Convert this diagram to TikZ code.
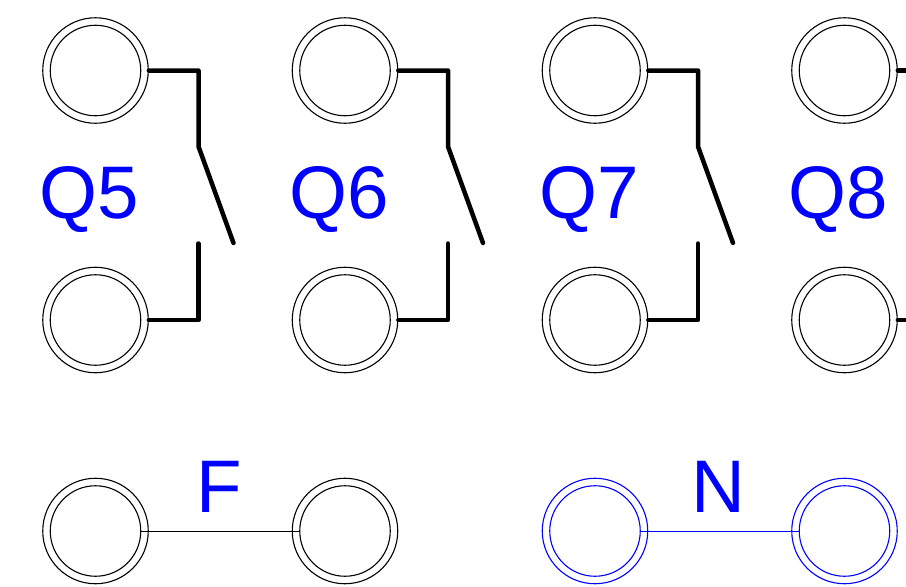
\documentclass[tikz,border=0pt]{standalone}
\usepackage{fontspec}
\setmainfont{Liberation Sans}
\definecolor{pureblue}{RGB}{0,0,255}
\tikzset{
  x=1pt,y=-1pt,
  outerring/.style={circle,draw,line width=1.1pt,minimum size=105.5pt,inner sep=0pt},
  innerring/.style={circle,draw,line width=1.1pt,minimum size=90.5pt,inner sep=0pt},
  wire/.style={line width=4.5pt,line join=round,line cap=round},
  link/.style={line width=1pt},
  biglabel/.style={text=pureblue,font=\fontsize{74.5}{74.5}\selectfont,inner sep=0pt,anchor=base west},
}
\begin{document}
\begin{tikzpicture}
\useasboundingbox (0,0) rectangle (906,587);
\foreach \n/\cx in {5/95.5,6/345,7/595,8/844.5}{
  \node[outerring] (ta\n) at (\cx,70.5) {};
  \node[innerring] (tb\n) at (\cx,70.5) {};
  \node[outerring] (ba\n) at (\cx,320) {};
  \node[innerring] (bb\n) at (\cx,320) {};
  \node[biglabel] (q\n) at (\cx-56,218.5) {Q\n};
}
\foreach \n/\cx in {5/198.5,6/448,7/698}{
  \coordinate (ka\n) at (\cx,146.5);
  \coordinate (kb\n) at (\cx+35,243);
  \coordinate (kc\n) at (\cx,243.5);
  \draw[wire] (ta\n.east) -| (ka\n) -- (kb\n);
  \draw[wire] (ba\n.east) -| (kc\n);
}
\coordinate (edgeT) at (908,70.5);
\coordinate (edgeB) at (908,320);
\draw[wire] (ta8.east) -- (edgeT);
\draw[wire] (ba8.east) -- (edgeB);
\node[outerring] (fa) at (95.5,531) {};
\node[innerring] (fb) at (95.5,531) {};
\node[outerring] (fc) at (345,531) {};
\node[innerring] (fd) at (345,531) {};
\draw[link] (fb.east) -- (fd.west);
\node[biglabel] (flabel) at (196,512) {F};
\node[outerring,draw=pureblue] (na) at (595,531) {};
\node[innerring,draw=pureblue] (nb) at (595,531) {};
\node[outerring,draw=pureblue] (nc) at (844.5,531) {};
\node[innerring,draw=pureblue] (nd) at (844.5,531) {};
\draw[link,pureblue] (nb.east) -- (nd.west);
\node[biglabel] (nlabel) at (691,512) {N};
\end{tikzpicture}
\end{document}
